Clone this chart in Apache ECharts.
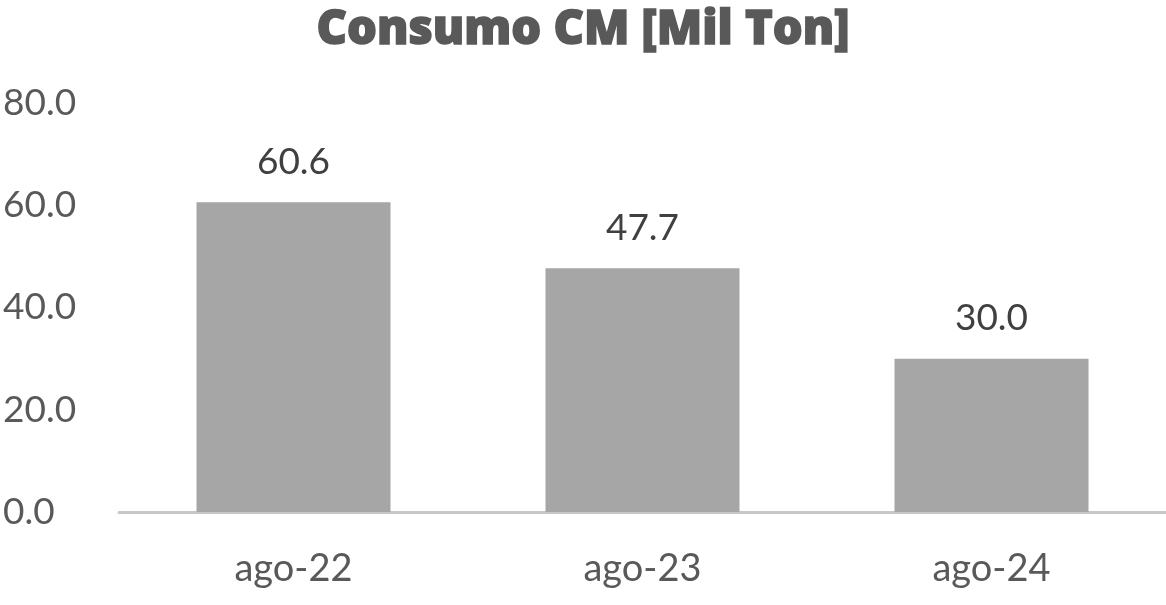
<!DOCTYPE html>
<html>
<head>
<meta charset="utf-8">
<script src="https://cdn.jsdelivr.net/npm/echarts@6/dist/echarts.min.js"></script>
<style>
  html, body { margin: 0; padding: 0; background: #fff; }
  #main { width: 1166px; height: 605px; }
</style>
</head>
<body>
<div id="main"></div>
<script>
// datos del gráfico
var categorias = ['ago-22', 'ago-23', 'ago-24'];
var consumo = [60.6, 47.7, 30.0];
var ticksY = [0, 20, 80];   // min, intervalo, max

var myChart = echarts.init(document.getElementById('main'));
var option = {
    animation: false,
    title: {
        text: 'Consumo CM [Mil Ton]',
        left: 'center',
        top: 2,
        textStyle: {
            fontFamily: 'Open Sans',
            fontWeight: 800,
            fontSize: 47,
            color: '#595959',
            textBorderColor: '#595959',
            textBorderWidth: 1.5
        }
    },
    grid: { left: 117, right: 0, top: 103, bottom: 93 },
    xAxis: {
        type: 'category',
        data: categorias,
        axisLine: { lineStyle: { color: '#c8c8c8', width: 3 } },
        axisTick: { show: false },
        axisLabel: {
            margin: 38,
            fontFamily: 'Lato',
            fontSize: 38,
            color: '#595959'
        }
    },
    yAxis: {
        type: 'value',
        min: ticksY[0],
        interval: ticksY[1],
        max: ticksY[2],
        splitLine: { show: false },
        axisLine: { show: false },
        axisTick: { show: false },
        axisLabel: {
            align: 'left',
            margin: 116,
            fontFamily: 'Lato',
            fontSize: 37,
            color: '#595959',
            formatter: function (v) { return v.toFixed(1); }
        }
    },
    series: [{
        type: 'bar',
        data: consumo,
        barWidth: 194,
        itemStyle: { color: '#a6a6a6' },
        label: {
            show: true,
            position: 'top',
            distance: 22,
            fontFamily: 'Lato',
            fontSize: 37,
            color: '#404040',
            formatter: function (p) { return p.value.toFixed(1); }
        }
    }]
};
myChart.setOption(option);
</script>
</body>
</html>
